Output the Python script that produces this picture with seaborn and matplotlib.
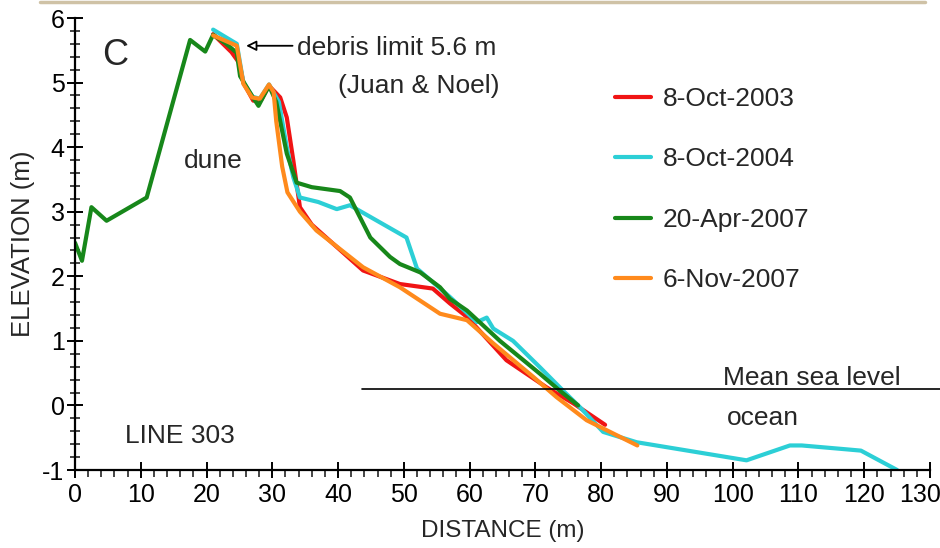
import numpy as np
import pandas as pd
import matplotlib
matplotlib.use("Agg")
import matplotlib.pyplot as plt
from matplotlib.lines import Line2D
from matplotlib.ticker import MultipleLocator, FixedLocator
from matplotlib.transforms import ScaledTranslation
import seaborn as sns

# ---- data (distance m, elevation m) ----
oct2003_x = [21, 23.8, 25, 25.6, 27.1, 28.3, 29.5, 31.2, 32.2, 33.2, 34.2, 36, 43.8, 49.4, 54.4, 57, 59.6, 65.6, 71.7, 75.8, 80.6]
oct2003_y = [5.75, 5.47, 5.3, 5.0, 4.72, 4.73, 4.95, 4.77, 4.46, 3.79, 3.07, 2.8, 2.09, 1.88, 1.81, 1.58, 1.37, 0.7, 0.28, 0.03, -0.3]

oct2004_x = [21, 24.6, 25.6, 27, 28.1, 29.5, 31, 32.2, 33.2, 34.2, 37, 39.8, 41.8, 50.4, 52, 57, 61.1, 62.6, 63.6, 66.6, 70.7, 74.2, 76.8, 80.3, 85.4, 102.1, 108.7, 110.5, 117.3, 119.5, 125]
oct2004_y = [5.82, 5.6, 5.0, 4.78, 4.75, 4.97, 4.7, 4.0, 3.53, 3.22, 3.15, 3.04, 3.1, 2.6, 2.12, 1.68, 1.29, 1.36, 1.19, 1.0, 0.59, 0.23, -0.03, -0.41, -0.57, -0.85, -0.62, -0.62, -0.68, -0.7, -1.0]

apr2007_x = [0, 1.06, 2.5, 4.8, 10.9, 17.5, 19.8, 21, 23, 24.6, 25.1, 27, 27.9, 29.5, 30.6, 32.2, 33.7, 36, 40.3, 41.8, 44.9, 47.9, 49.4, 52.5, 55.5, 57, 59.6, 64.6, 70.7, 73.7, 76.5]
apr2007_y = [2.52, 2.24, 3.07, 2.86, 3.22, 5.66, 5.48, 5.74, 5.6, 5.46, 5.1, 4.78, 4.64, 4.95, 4.7, 3.9, 3.45, 3.38, 3.32, 3.22, 2.6, 2.3, 2.19, 2.06, 1.83, 1.65, 1.47, 1.0, 0.49, 0.23, 0.0]

nov2007_x = [21, 24.6, 25.6, 26.9, 28.1, 29.5, 30.2, 30.6, 31.5, 32.3, 34.2, 36.7, 43.8, 49.4, 55.5, 59.6, 63.6, 69.7, 73.2, 77.8, 85.5]
nov2007_y = [5.73, 5.57, 4.98, 4.77, 4.75, 4.97, 4.85, 4.4, 3.7, 3.3, 3.0, 2.71, 2.14, 1.83, 1.42, 1.32, 0.96, 0.44, 0.13, -0.23, -0.62]

series_names = ["8-Oct-2003", "8-Oct-2004", "20-Apr-2007", "6-Nov-2007"]
series_colors = ["#f01414", "#2ccfd6", "#17871a", "#ff8a1c"]
x_ticks = [0, 10, 20, 30, 40, 50, 60, 70, 80, 90, 100, 110, 120, 130]
y_ticks = [-1, 0, 1, 2, 3, 4, 5, 6]
mean_sea_level = 0.25
debris_limit = 5.6

xs = [oct2003_x, oct2004_x, apr2007_x, nov2007_x]
ys = [oct2003_y, oct2004_y, apr2007_y, nov2007_y]
frames = []
for name, x, y in zip(series_names, xs, ys):
    frames.append(pd.DataFrame({"distance": x, "elevation": y, "survey": name}))
df = pd.concat(frames, ignore_index=True)

sns.set_style("ticks")
plt.rcParams["font.family"] = ["Liberation Sans", "DejaVu Sans"]
plt.rcParams["axes.unicode_minus"] = False

fig = plt.figure(figsize=(9.4, 5.48), dpi=100)
ax = fig.add_axes([75 / 940, 1 - 470 / 548, 855 / 940, 452 / 548])

sns.lineplot(data=df, x="distance", y="elevation", hue="survey", hue_order=series_names,
             palette=dict(zip(series_names, series_colors)), sort=False, estimator=None,
             units="survey", linewidth=3.0, ax=ax, legend=False)

ax.set_xlim(0, 130)
ax.set_ylim(-1, 6)
ax.xaxis.set_major_locator(FixedLocator(x_ticks))
ax.xaxis.set_minor_locator(MultipleLocator(2))
ax.yaxis.set_major_locator(FixedLocator(y_ticks))
ax.yaxis.set_minor_locator(MultipleLocator(0.2))
ax.set_xticklabels([str(v) for v in x_ticks])
ax.set_yticklabels([str(v) for v in y_ticks])
for s in ["top", "right"]:
    ax.spines[s].set_visible(False)
for s in ["left", "bottom"]:
    ax.spines[s].set_linewidth(1.6)
    ax.spines[s].set_color("black")
ax.tick_params(axis="both", which="major", direction="inout", length=11, width=1.4,
               labelsize=18, pad=2, colors="black")
ax.tick_params(axis="x", which="major", pad=4)
ax.tick_params(axis="x", which="minor", direction="out", length=5, width=1.2)
ax.tick_params(axis="y", which="minor", direction="inout", length=7, width=1.2)

# keep the last x tick label inside the figure
last = ax.xaxis.get_major_ticks()[len(x_ticks) - 1]
last.label1.set_transform(last.label1.get_transform() + ScaledTranslation(-0.10, 0, fig.dpi_scale_trans))

ax.set_xlabel("DISTANCE (m)", fontsize=17.5, labelpad=9)
ax.set_ylabel("ELEVATION (m)", fontsize=18.5, labelpad=5)

# mean sea level line
ax.plot([43.6, 131.5], [mean_sea_level, mean_sea_level], color="black", lw=1.2, clip_on=False)

# annotations
FS = 19
ax.text(6.1, 5.42, "C", fontsize=26, ha="center", va="center")
ax.annotate("", xy=(25.6, 5.57), xytext=(33.5, 5.57),
            arrowprops=dict(arrowstyle="-|>,head_length=0.6,head_width=0.3", fc="white", ec="black", lw=1.3))
ax.text(33.8, 5.53, "debris limit %.1f m" % debris_limit, fontsize=FS, ha="left", va="center")
ax.text(64.6, 4.95, "(Juan & Noel)", fontsize=FS, ha="right", va="center")
ax.text(21, 3.79, "dune", fontsize=FS, ha="center", va="center")
ax.text(112, 0.43, "Mean sea level", fontsize=FS, ha="center", va="center")
ax.text(104.6, -0.2, "ocean", fontsize=FS, ha="center", va="center")
ax.text(7.6, -0.48, "LINE 303", fontsize=FS, ha="left", va="center")

handles = [Line2D([0], [0], color=c, lw=3.0) for c in series_colors]
ax.legend(handles, series_names, loc="upper left", bbox_to_anchor=(615 / 940, 1 - 87 / 548),
          bbox_transform=fig.transFigure, frameon=False, fontsize=FS, handlelength=1.36,
          handletextpad=0.45, labelspacing=1.38, borderpad=0, borderaxespad=0)

# faint top border of original frame
fig.add_artist(Line2D([40 / 940, 925 / 940], [1 - 1.5 / 548, 1 - 1.5 / 548], transform=fig.transFigure,
                      color="#cfc2a6", lw=2.5))

fig.savefig("out.png", dpi=100)
